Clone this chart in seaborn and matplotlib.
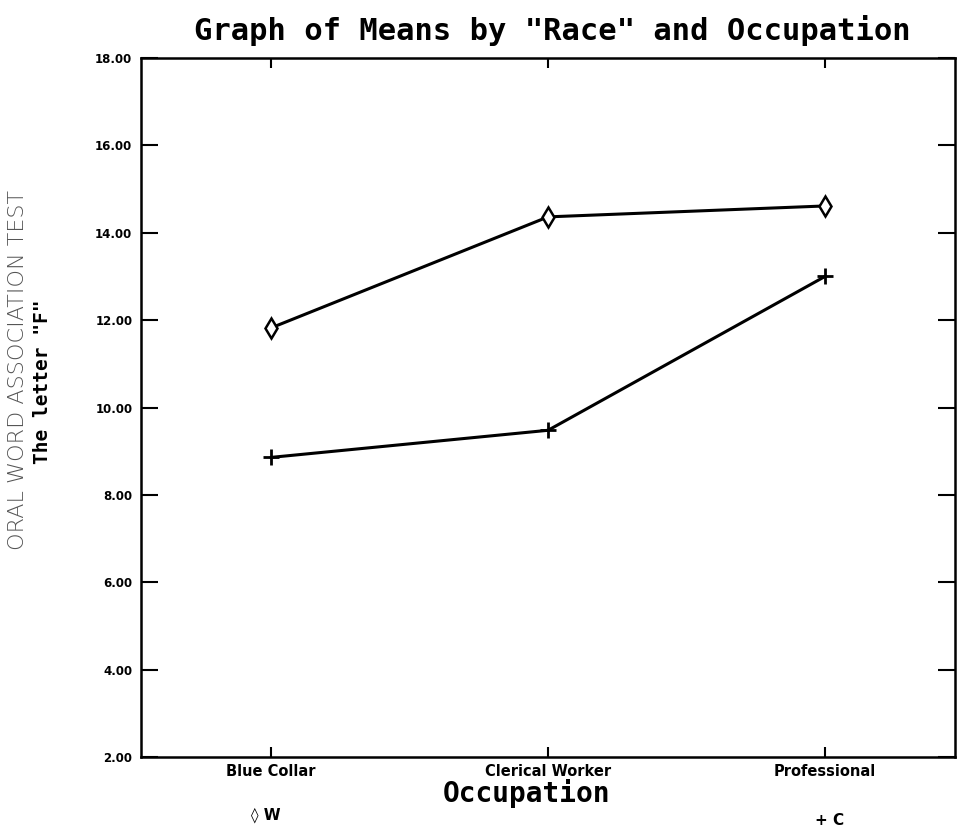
import numpy as np
import pandas as pd
import matplotlib
matplotlib.use('agg')
import matplotlib.pyplot as plt
import seaborn as sns

# means
occupations = ['Blue Collar', 'Clerical Worker', 'Professional']
means_w = [11.82, 14.36, 14.61]
means_c = [8.86, 9.48, 13.00]
y_ticks = [2, 4, 6, 8, 10, 12, 14, 16, 18]

sns.set_style('white')
plt.rcParams['font.family'] = ['DejaVu Sans']
plt.rcParams['text.color'] = 'black'
plt.rcParams['xtick.color'] = 'black'
plt.rcParams['ytick.color'] = 'black'

fig = plt.figure(figsize=(9.7, 8.36), dpi=100)
ax = fig.add_axes([0.145, 0.094, 0.84, 0.837])

pos = list(range(len(occupations)))
# W: open diamonds, C: plus signs
sns.lineplot(x=pos, y=means_w, color='black', marker='d', markersize=10,
             mec='black', mew=1.8, mfc='white', linewidth=2.2, ax=ax)
sns.lineplot(x=pos, y=means_c, color='black', marker='+', markersize=12,
             mec='black', mew=2.0, linewidth=2.2, ax=ax)

ax.set_xlim(-0.47, 2.47)
ax.set_ylim(2, 18)
ax.set_xticks(pos)
ax.set_xticklabels(occupations, fontsize=10.5, fontweight='bold')
ax.set_yticks(y_ticks)
ax.set_yticklabels(['%.2f' % v for v in y_ticks], fontsize=8.5, fontweight='bold')
ax.tick_params(axis='y', direction='in', length=12, width=1.5, left=True, right=True, pad=6)
ax.tick_params(axis='x', direction='in', length=7, width=1.5, bottom=True, top=True, pad=5)
for s in ax.spines.values():
    s.set_visible(True)
    s.set_color('black')
    s.set_linewidth(1.8)
ax.grid(False)

ax.set_xlabel('')
ax.set_ylabel('')
fig.text(0.569, 0.963, 'Graph of Means by "Race" and Occupation', ha='center', va='center',
         fontsize=22, fontweight='bold', family='DejaVu Sans Mono')
fig.text(0.543, 0.051, 'Occupation', ha='center', va='center',
         fontsize=20, fontweight='bold', family='DejaVu Sans Mono')
fig.text(0.019, 0.557, 'ORAL WORD ASSOCIATION TEST', rotation=90, ha='center', va='center',
         fontsize=16, color='#555555', fontweight='light')
fig.text(0.044, 0.543, 'The letter "F"', rotation=90, ha='center', va='center',
         fontsize=14, fontweight='bold', family='DejaVu Sans Mono')

# legend keys under the x axis
fig.text(0.274, 0.025, '\u25ca W', ha='center', va='center', fontsize=11, fontweight='bold')
fig.text(0.855, 0.018, '+ C', ha='center', va='center', fontsize=11, fontweight='bold')

fig.savefig('out.png', dpi=100, facecolor='white')
